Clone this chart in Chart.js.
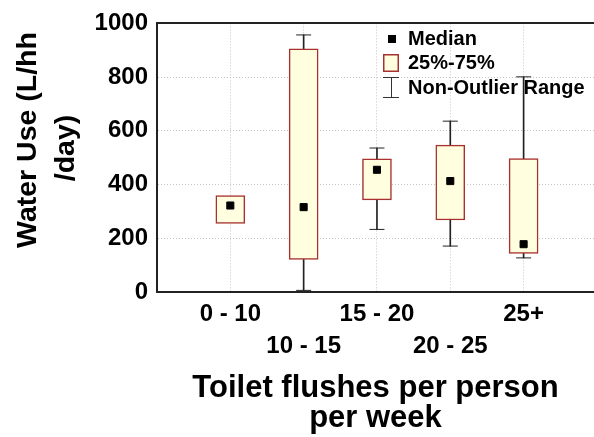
<!DOCTYPE html>
<html>
<head>
<meta charset="utf-8">
<script src="https://cdn.jsdelivr.net/npm/chart.js@4.4.1/dist/chart.umd.min.js"></script>
<style>
  html, body { margin: 0; padding: 0; background: #fff; }
  canvas { display: block; }
</style>
</head>
<body>
<canvas id="flush-chart" width="594" height="437"></canvas>
<script>
"use strict";

// values (L/hh/day)
const categories = ["0 - 10", "10 - 15", "15 - 20", "20 - 25", "25+"];
const positions = [1, 2, 3, 4, 5];
const q1 = [255, 121, 343, 268, 144];
const q3 = [359, 905, 496, 547, 497];
const median = [322, 316, 455, 413, 178];
const whiskerLow = [null, 6, 233, 171, 127];
const whiskerHigh = [null, 957, 536, 636, 801];
const yTitleLines = ["Water Use (L/hh", "/day)"];
const xTitleLines = ["Toilet flushes per person", "per week"];
const legendLabels = ["Median", "25%-75%", "Non-Outlier Range"];

const fontFamily = "'Liberation Sans', Arial, sans-serif";
const boxFill = "#ffffe0";
const boxEdge = "#a8302e";
const gridColor = "#c4c4c4";
const axisColor = "#222";

function toPoints(values) {
  return positions.map((x, i) => ({ x: x, y: values[i] })).filter((p) => p.y !== null);
}

function toRanges(lo, hi) {
  return positions
    .map((x, i) => ({ x: x, y: lo[i] === null ? null : [lo[i], hi[i]] }))
    .filter((p) => p.y !== null);
}

const capPoints = toPoints(whiskerLow).concat(toPoints(whiskerHigh));

// y title and the legend are placed by hand
const yTitlePlugin = {
  id: "yTitle",
  afterDraw(chart) {
    const c = chart.ctx;
    c.save();
    c.fillStyle = "#000";
    c.font = "bold 28.5px " + fontFamily;
    c.textAlign = "center";
    c.textBaseline = "middle";
    const spots = [[28, 140], [66, 148]];
    yTitleLines.forEach((line, i) => {
      c.save();
      c.translate(spots[i][0], spots[i][1]);
      c.rotate(-Math.PI / 2);
      c.fillText(line, 0, 0);
      c.restore();
    });
    c.restore();
  },
};

const legendPlugin = {
  id: "boxLegend",
  afterDraw(chart) {
    const c = chart.ctx;
    c.save();
    // median marker
    c.fillStyle = "#000";
    c.fillRect(388, 35, 8, 8);
    // box
    c.fillStyle = boxFill;
    c.fillRect(383, 54, 16, 18);
    c.strokeStyle = boxEdge;
    c.lineWidth = 1.5;
    c.strokeRect(383.75, 54.75, 14.5, 16.5);
    // whisker
    c.strokeStyle = "#333";
    c.lineWidth = 1;
    c.beginPath();
    c.moveTo(391.5, 77.5);
    c.lineTo(391.5, 97.5);
    c.moveTo(383, 77.5);
    c.lineTo(399, 77.5);
    c.moveTo(383, 97.5);
    c.lineTo(399, 97.5);
    c.stroke();
    // texts
    c.fillStyle = "#000";
    c.font = "bold 20px " + fontFamily;
    c.textAlign = "left";
    c.textBaseline = "middle";
    const rows = [39, 63, 88];
    legendLabels.forEach((t, i) => c.fillText(t, 408, rows[i]));
    c.restore();
  },
};

const ctx = document.getElementById("flush-chart").getContext("2d");
new Chart(ctx, {
  type: "bar",
  data: {
    datasets: [
      {
        type: "scatter",
        label: legendLabels[0],
        data: toPoints(median),
        pointStyle: "rect",
        pointRadius: 5,
        pointBorderWidth: 1,
        pointBackgroundColor: "#000",
        pointBorderColor: "#000",
        order: 0,
      },
      {
        type: "bar",
        label: legendLabels[1],
        data: toRanges(q1, q3),
        backgroundColor: boxFill,
        borderColor: boxEdge,
        borderWidth: 1.5,
        borderSkipped: false,
        barThickness: 29,
        grouped: false,
        order: 1,
      },
      {
        type: "scatter",
        label: "caps",
        data: capPoints,
        pointStyle: "line",
        pointRadius: 7.5,
        pointBorderWidth: 1,
        pointBorderColor: "#222",
        order: 2,
      },
      {
        type: "bar",
        label: legendLabels[2],
        data: toRanges(whiskerLow, whiskerHigh),
        backgroundColor: "#222",
        barThickness: 1,
        grouped: false,
        order: 3,
      },
    ],
  },
  options: {
    responsive: false,
    animation: false,
    events: [],
    layout: { padding: 0, autoPadding: false },
    plugins: {
      legend: { display: false },
      tooltip: { enabled: false },
    },
    scales: {
      x: {
        type: "linear",
        min: 0,
        max: 5.96,
        offset: false,
        afterBuildTicks: (scale) => {
          scale.ticks = positions.map((v) => ({ value: v }));
        },
        afterFit: (scale) => {
          scale.height = 145;
        },
        grid: { color: gridColor, drawTicks: false, offset: false },
        border: { color: axisColor, width: 2, dash: [1, 2] },
        ticks: {
          autoSkip: false,
          maxRotation: 0,
          padding: 6,
          color: "#000",
          font: { family: fontFamily, size: 24, weight: "bold", lineHeight: "32px" },
          callback: (value) => {
            const i = positions.indexOf(value);
            if (i < 0) return "";
            return i % 2 === 1 ? ["", categories[i]] : categories[i];
          },
        },
        title: {
          display: true,
          text: xTitleLines,
          color: "#000",
          font: { family: fontFamily, size: 31, weight: "bold", lineHeight: "30px" },
          padding: { top: 0, bottom: 4 },
        },
      },
      x2: {
        type: "linear",
        position: "top",
        display: true,
        offset: false,
        ticks: { display: false },
        grid: { display: false },
        border: { color: axisColor, width: 2 },
        afterFit: (scale) => {
          scale.height = 19;
        },
      },
      y: {
        min: 0,
        max: 1000,
        afterFit: (scale) => {
          scale.width = 157;
        },
        ticks: {
          stepSize: 200,
          padding: 9,
          color: "#000",
          font: { family: fontFamily, size: 24, weight: "bold" },
          callback: (value) => String(value),
        },
        grid: {
          drawTicks: false,
          color: (c) => (c.tick.value > 0 && c.tick.value < 1000 ? gridColor : "rgba(0,0,0,0)"),
        },
        border: { color: axisColor, width: 2, dash: [1, 2] },
      },
    },
  },
  plugins: [yTitlePlugin, legendPlugin],
});
</script>
</body>
</html>
